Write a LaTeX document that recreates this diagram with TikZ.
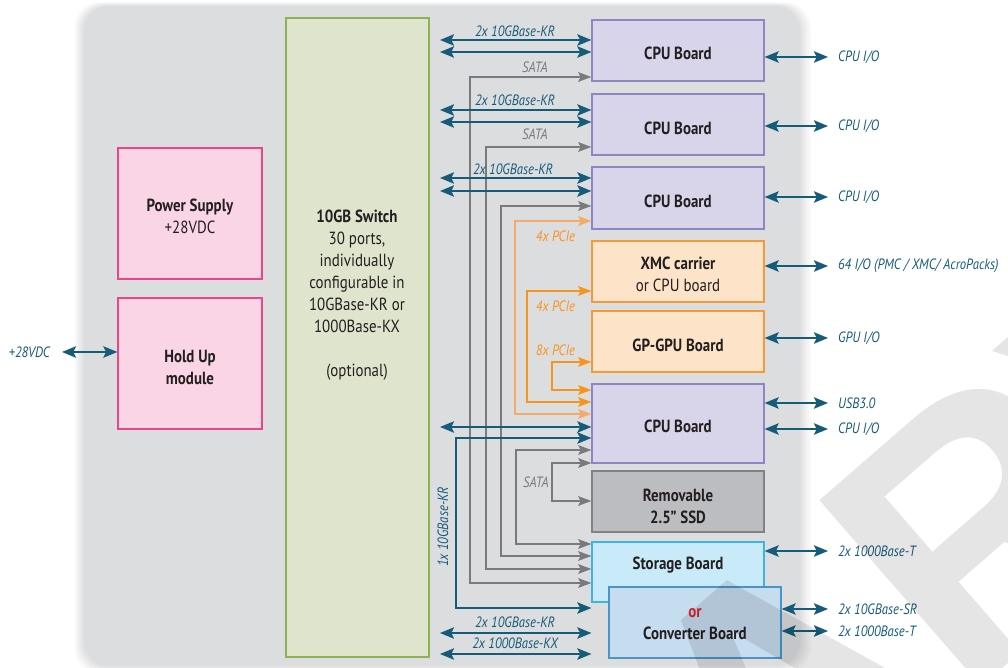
\documentclass[tikz,border=0pt]{standalone}
\usepackage{fontspec}
\setmainfont{PT Sans}[FakeStretch=0.85]
\newfontfamily\wmfont{Liberation Sans}
\usetikzlibrary{arrows.meta,fit}
\definecolor{panel}{RGB}{220,221,223}
\definecolor{tealc}{RGB}{22,92,122}
\definecolor{greyl}{RGB}{122,122,124}
\definecolor{orng}{RGB}{247,148,29}
\definecolor{orngl}{RGB}{245,170,105}
\definecolor{swfill}{RGB}{223,228,205}
\definecolor{swdraw}{RGB}{141,178,85}
\definecolor{pkfill}{RGB}{249,213,229}
\definecolor{pkdraw}{RGB}{232,69,139}
\definecolor{cpufill}{RGB}{216,212,234}
\definecolor{cpudraw}{RGB}{143,132,196}
\definecolor{orfill}{RGB}{253,227,200}
\definecolor{ordraw}{RGB}{243,154,58}
\definecolor{ssdfill}{RGB}{188,189,192}
\definecolor{ssddraw}{RGB}{130,130,132}
\definecolor{stfill}{RGB}{201,234,248}
\definecolor{stdraw}{RGB}{61,180,232}
\definecolor{cvfill}{RGB}{198,220,239}
\definecolor{cvdraw}{RGB}{75,148,201}
\definecolor{txt}{RGB}{35,31,32}
\definecolor{orred}{RGB}{218,37,45}
\tikzset{
  myt/.tip={Stealth[length=8pt,width=6.5pt,inset=1.6pt]},
  myg/.tip={Stealth[length=7.5pt,width=5.5pt,inset=1.4pt]},
}
\begin{document}
\begin{tikzpicture}[x=0.02cm,y=-0.02cm,
  box/.style={draw, line width=0.7pt, inner sep=0pt},
  btxt/.style={align=center, text=txt, font=\fontsize{10}{12.5}\selectfont, inner sep=0pt},
  lbl/.style={font=\fontsize{8.5}{9}\selectfont\itshape, text=tealc, inner sep=1pt},
  glbl/.style={font=\fontsize{8.5}{9}\selectfont\itshape, text=greyl, inner sep=1pt},
  olbl/.style={font=\fontsize{8.5}{9}\selectfont\itshape, text=orng, inner sep=1pt},
  tlink/.style={draw=tealc, line width=1pt, arrows={myt-myt}},
  glink/.style={draw=greyl, line width=1pt, arrows={myg-myg}},
  olink/.style={draw=orng, line width=1pt, arrows={myg-myg}},
  wmark/.style={font=\wmfont\bfseries\fontsize{204}{204}\selectfont, text=black, text opacity=0.1, inner sep=0pt},
]
\useasboundingbox (0,0) rectangle (1008,668);
% panel with soft shadow
\foreach \i in {1,...,6}
  \fill[black, opacity=0.018, rounded corners=0.5cm] ({84-\i*1.6},{6-\i*0.6}) rectangle ({800+\i*1.8},{666+\i*1.2});
\fill[panel, rounded corners=0.5cm] (84,6) rectangle (800,666);

% boxes
\node[box, fill=swfill, draw=swdraw, fit={(286,18)(429,657)}] (sw) {};
\node[btxt] (swt) at (357,295) {\textbf{10GB Switch}\\30 ports,\\individually\\configurable in\\10GBase-KR or\\1000Base-KX\\[12.5pt](optional)};
\node[box, fill=pkfill, draw=pkdraw, fit={(118,148)(262,279)}] (ps) {};
\node[btxt] (pst) at (190,216) {\textbf{Power Supply}\\+28VDC};
\node[box, fill=pkfill, draw=pkdraw, fit={(118,298)(262,429)}] (hold) {};
\node[btxt] (holdt) at (190,367) {\textbf{Hold Up}\\\textbf{module}};

\node[box, fill=cpufill, draw=cpudraw, fit={(592,20)(764,81)}] (cpu1) {};
\node[btxt] (cpu1t) at (678,53) {\textbf{CPU Board}};
\node[box, fill=cpufill, draw=cpudraw, fit={(592,94)(764,155)}] (cpu2) {};
\node[btxt] (cpu2t) at (678,128) {\textbf{CPU Board}};
\node[box, fill=cpufill, draw=cpudraw, fit={(592,167)(764,229)}] (cpu3) {};
\node[btxt] (cpu3t) at (678,201) {\textbf{CPU Board}};
\node[box, fill=orfill, draw=ordraw, fit={(592,241)(764,302)}] (xmc) {};
\node[btxt] (xmct) at (678,274) {\textbf{XMC carrier}\\or CPU board};
\node[box, fill=orfill, draw=ordraw, fit={(592,311)(764,372)}] (gpu) {};
\node[btxt] (gput) at (678,345) {\textbf{GP-GPU Board}};
\node[box, fill=cpufill, draw=cpudraw, fit={(592,384)(764,463)}] (cpu4) {};
\node[btxt] (cpu4t) at (678,426) {\textbf{CPU Board}};
\node[box, fill=ssdfill, draw=ssddraw, fit={(592,471)(764,532)}] (ssd) {};
\node[btxt] (ssdt) at (678,506) {\textbf{Removable}\\\textbf{2.5'' SSD}};
\node[box, fill=stfill, draw=stdraw, fit={(592,542)(764,602)}] (stor) {};
\node[btxt] (stt) at (678,565) {\textbf{Storage Board}};
\node[box, fill=cvfill, draw=cvdraw, fit={(609,587)(781,658)}] (conv) {};
\node[btxt] (convt) at (695,624) {\textbf{\color{orred}or}\\\textbf{Converter Board}};

% grey SATA links
\draw[glink] (cpu1.west |- 0,77) -- (470,77) -- (470,583) -- (stor.west |- 0,583);
\draw[glink] (cpu2.west |- 0,147) -- (486,147) -- (486,569) -- (stor.west |- 0,569);
\draw[glink] (cpu3.west |- 0,206) -- (501,206) -- (501,556) -- (stor.west |- 0,556);
\draw[glink] (cpu4.west |- 0,450) -- (516,450) -- (516,544) -- (stor.west |- 0,544);
\draw[glink] (cpu4.west |- 0,463) -- (552,463) -- (552,501) -- (ssd.west |- 0,501);
\node[glbl] (sata1) at (535,67) {SATA};
\node[glbl] (sata2) at (535,134) {SATA};
\node[glbl] (sata3) at (536,482) {SATA};

% orange PCIe links
\draw[olink, draw=orngl] (cpu3.west |- 0,221) -- (515,221) -- (515,414) -- (cpu4.west |- 0,414);
\draw[olink] (xmc.west |- 0,291) -- (527,291) -- (527,402) -- (cpu4.west |- 0,402);
\draw[olink] (gpu.west |- 0,362) -- (552,362) -- (552,390) -- (cpu4.west |- 0,390);
\node[olbl, anchor=east] (p1) at (577,236) {4x PCIe};
\node[olbl, anchor=east] (p2) at (577,306) {4x PCIe};
\node[olbl, anchor=east] (p3) at (577,350) {8x PCIe};

% teal links switch side
\coordinate (k1) at (440,40);  \draw[tlink] (k1) -- (cpu1.west |- k1);
\coordinate (k2) at (440,52);  \draw[tlink] (k2) -- (cpu1.west |- k2);
\coordinate (k3) at (440,110); \draw[tlink] (k3) -- (cpu2.west |- k3);
\coordinate (k4) at (440,122); \draw[tlink] (k4) -- (cpu2.west |- k4);
\coordinate (k5) at (440,178); \draw[tlink] (k5) -- (cpu3.west |- k5);
\coordinate (k6) at (440,191); \draw[tlink] (k6) -- (cpu3.west |- k6);
\coordinate (k7) at (440,427); \draw[tlink] (k7) -- (cpu4.west |- k7);
\draw[tlink] (cpu4.west |- 0,438) -- (456,438) -- (456,608) -- (stor.west |- 0,608);
\coordinate (k8) at (440,633); \draw[tlink] (k8) -- (stor.west |- k8);
\coordinate (k9) at (440,654); \draw[tlink] (k9) -- (stor.west |- k9);
\node[lbl] (t1) at (515,31) {2x 10GBase-KR};
\node[lbl] (t2) at (515,100) {2x 10GBase-KR};
\node[lbl] (t3) at (513,169) {2x 10GBase-KR};
\node[lbl, rotate=90] (t4) at (443,527) {1x 10GBase-KR};
\node[lbl] (t5) at (515,622) {2x 10GBase-KR};
\node[lbl] (t6) at (515,643) {2x 1000Base-KX};

% left power input
\node[lbl, anchor=east] (l28) at (52,352) {+28VDC};
\coordinate (c28) at (62,352);
\draw[tlink] (c28) -- (hold.west |- c28);

% right side I/O
\foreach \y/\b/\t [count=\n] in {57/cpu1/CPU I\slash O, 126/cpu2/CPU I\slash O, 197/cpu3/CPU I\slash O,
   266/xmc/64 I\slash O (PMC \slash\ XMC\slash\ AcroPacks), 338/gpu/GPU I\slash O, 403/cpu4/USB3.0,
   429/cpu4/CPU I\slash O, 551/stor/2x 1000Base-T, 609/conv/2x 10GBase-SR, 631/conv/2x 1000Base-T}{
  \coordinate (r\n) at (828,\y);
  \draw[tlink] (\b.east |- r\n) -- (r\n);
  \node[lbl, anchor=west] (io\n) at (836,\y) {\t};
}

% watermark (partly visible)
\begin{scope}
\clip (0,0) rectangle (1008,668);
\node[wmark, rotate=41, anchor=base east] (wm) at (1330,384) {PRELIMINARY};
\end{scope}
\end{tikzpicture}
\end{document}
